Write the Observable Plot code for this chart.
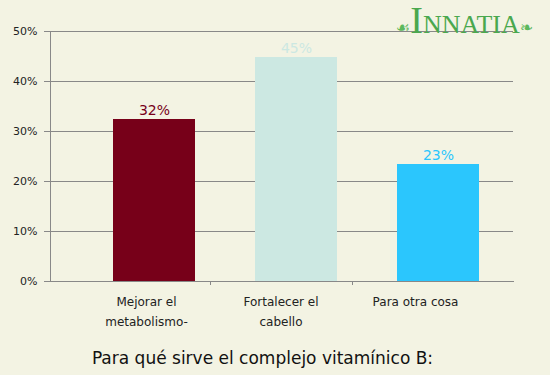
<!DOCTYPE html>
<html>
<head>
<meta charset="utf-8">
<script src="https://cdn.jsdelivr.net/npm/d3@7"></script>
<script src="https://cdn.jsdelivr.net/npm/@observablehq/plot@0.6"></script>
<style>
  html, body { margin: 0; padding: 0; background: #f3f3e3; }
  #wrap { position: relative; width: 550px; height: 375px; overflow: hidden; font-family: "DejaVu Sans", sans-serif; }
  #logo { position: absolute; left: 396px; top: 1px; font-family: "Liberation Serif", serif; color: #4aa84e; font-size: 26px; white-space: nowrap; line-height: 38px; }
  #logo .big { font-size: 38px; }
  #logo .orn { font-family: "DejaVu Sans", sans-serif; font-size: 16px; color: #5cb85c; }
  #title { text-align: center; font-size: 17px; color: #111; margin-top: 8px; padding-right: 25px; }
</style>
</head>
<body>
<div id="wrap">
  <div id="chart"></div>
  <div id="title">Para qué sirve el complejo vitamínico B:</div>
  <div id="logo"><span class="orn">☙</span><span class="big">I</span>NNATIA<span class="orn">❧</span></div>
</div>
<script>
const categories = ["Mejorar el metabolismo-", "Fortalecer el cabello", "Para otra cosa"];
const labelLine1 = ["Mejorar el", "Fortalecer el", "Para otra cosa"];
const labelLine2 = ["metabolismo-", "cabello", ""];
const values = [32.4, 44.8, 23.4];
const valueLabels = ["32%", "45%", "23%"];
const colors = ["#770019", "#cce8e2", "#2bc6fd"];
const yTicks = [0, 10, 20, 30, 40, 50];

const data = categories.map((c, i) => ({
  cat: c, v: values[i], lab: valueLabels[i], col: colors[i],
  l1: labelLine1[i], l2: labelLine2[i]
}));

const labelMarks = data.flatMap((d, i) => [
  Plot.text([d], { x: "cat", y: 0, text: "l1", dy: 21, dx: -8 - 7.5 * i, fill: "#222", fontSize: 12 }),
  Plot.text([d], { x: "cat", y: 0, text: "l2", dy: 41, dx: -8 - 7.5 * i, fill: "#222", fontSize: 12 })
]);

const chart = Plot.plot({
  width: 550,
  height: 340,
  marginTop: 31,
  marginBottom: 59,
  marginLeft: 50,
  marginRight: 37,
  style: { background: "#f3f3e3", fontFamily: "DejaVu Sans, sans-serif", fontSize: "11px", color: "#222" },
  x: { domain: categories, paddingInner: 0.425, paddingOuter: 0.337, align: 0.645, axis: null },
  y: { domain: [0, 50], axis: null },
  marks: [
    Plot.gridY(yTicks, { stroke: "#888", strokeOpacity: 1 }),
    Plot.axisY(yTicks, { tickSize: 6, tickPadding: 7, stroke: "#888", tickFormat: d => d + "%", fill: "#222", fontSize: 11, label: null }),
    Plot.barY(data, { x: "cat", y: "v", fill: "col" }),
    Plot.frame({ anchor: "left", stroke: "#888" }),
    Plot.frame({ anchor: "bottom", stroke: "#888" }),
    Plot.ruleX(data.slice(1), { x: "cat", y1: 0, y2: 0, insetBottom: -4, dx: -86, stroke: "#888" }),
    Plot.text(data, { x: "cat", y: "v", text: "lab", fill: "col", dy: -9, fontSize: 14 }),
    ...labelMarks
  ]
});
document.getElementById("chart").appendChild(chart);
</script>
</body>
</html>
